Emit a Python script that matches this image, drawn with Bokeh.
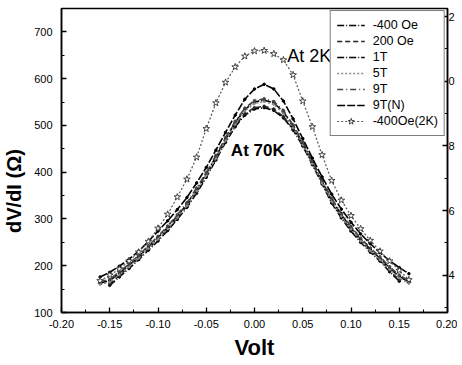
from bokeh.plotting import figure
from bokeh.models import (Range1d, LinearAxis, SingleIntervalTicker, PrintfTickFormatter,
                          Legend, LegendItem, Label)
from bokeh.embed import file_html
from bokeh.resources import INLINE

# ---------------- data ----------------
volts_full = [-0.16, -0.15, -0.14, -0.13, -0.12, -0.11, -0.10, -0.09, -0.08, -0.07, -0.06,
              -0.05, -0.04, -0.03, -0.02, -0.01, 0.00, 0.01, 0.02, 0.03, 0.04, 0.05,
              0.06, 0.07, 0.08, 0.09, 0.10, 0.11, 0.12, 0.13, 0.14, 0.15, 0.16]
volts_short = [-0.15, -0.14, -0.13, -0.12, -0.11, -0.10, -0.09, -0.08, -0.07, -0.06,
               -0.05, -0.04, -0.03, -0.02, -0.01, 0.00, 0.01, 0.02, 0.03, 0.04, 0.05,
               0.06, 0.07, 0.08, 0.09, 0.10, 0.11, 0.12, 0.13, 0.14, 0.15]

m400_oe = [158, 176, 194, 213, 233, 253, 275, 299, 325, 355, 389, 426, 464, 497, 522, 535,
           538, 532, 516, 490, 456, 416, 375, 334, 302, 274, 250, 229, 210, 187, 167]
p200_oe = [161, 179, 197, 216, 236, 256, 278, 302, 328, 358, 392, 429, 467, 500, 525, 538,
           541, 535, 519, 493, 459, 419, 378, 337, 305, 277, 253, 232, 213, 190, 170]
t1 = [163, 168, 184, 201, 219, 240, 260, 282, 306, 332, 363, 396, 433, 471, 506, 534, 550,
      554, 548, 529, 498, 462, 421, 380, 341, 309, 281, 256, 235, 216, 195, 177, 165]
t5 = [160, 165, 181, 198, 216, 237, 257, 279, 303, 329, 360, 393, 430, 468, 503, 531, 547,
      551, 545, 526, 495, 459, 418, 377, 338, 306, 278, 253, 232, 213, 192, 174, 162]
t9 = [166, 171, 187, 204, 222, 243, 263, 285, 309, 335, 366, 399, 436, 474, 509, 537, 553,
      557, 551, 532, 501, 465, 424, 383, 344, 312, 284, 259, 238, 219, 198, 180, 168]
t9_n = [176, 186, 199, 214, 231, 252, 274, 296, 320, 346, 377, 410, 447, 485, 522, 556, 578,
        588, 578, 552, 514, 472, 430, 390, 353, 321, 293, 268, 247, 228, 211, 196, 183]
m400_2k = [168, 180, 193, 210, 229, 252, 280, 310, 347, 385, 432, 493, 548, 592, 625, 648, 659,
           660, 653, 640, 608, 552, 497, 437, 382, 340, 307, 279, 254, 231, 210, 190, 170]

labels = ["-400 Oe", "200 Oe", "1T", "5T", "9T", "9T(N)", "-400Oe(2K)"]
x_ticks_interval = 0.05
right_tick_overrides = {12: "2", 10: "0", 8: "8", 6: "6", 4: "4"}

FONT = "Liberation Sans"

p = figure(frame_width=386, frame_height=304, x_range=Range1d(-0.2, 0.2),
           y_range=Range1d(100, 750),
           output_backend="svg", toolbar_location=None,
           min_border_left=59, min_border_top=8, min_border_right=0, min_border_bottom=0)
p.xgrid.visible = False
p.ygrid.visible = False
p.outline_line_color = "black"
p.outline_line_width = 1.5
p.background_fill_color = "white"
p.border_fill_color = "white"


def style_axis(ax):
    ax.axis_line_color = "black"
    ax.axis_line_width = 1.5
    ax.major_tick_in = 5
    ax.major_tick_out = 0
    ax.minor_tick_in = 3
    ax.minor_tick_out = 0
    ax.major_tick_line_color = "black"
    ax.minor_tick_line_color = "black"
    ax.major_tick_line_width = 1.3
    ax.major_label_text_font = FONT
    ax.major_label_text_font_size = "11px"
    ax.major_label_text_color = "black"
    ax.axis_label_text_font = FONT
    ax.axis_label_text_font_style = "bold"
    ax.axis_label_text_color = "black"


xa = p.xaxis[0]
xa.ticker = SingleIntervalTicker(interval=x_ticks_interval, num_minor_ticks=2)
xa.formatter = PrintfTickFormatter(format="%.2f")
style_axis(xa)
xa.major_label_standoff = 7
xa.axis_label = "Volt"
xa.axis_label_text_font_size = "22px"
xa.axis_label_standoff = 4

ya = p.yaxis[0]
ya.ticker = SingleIntervalTicker(interval=100, num_minor_ticks=2)
style_axis(ya)
ya.major_label_standoff = 9
# trailing no-break spaces push the (centred) label lower, as in the original
ya.axis_label = "dV/dI (Ω)" + "\u00a0" * 11
ya.axis_label_text_font_size = "20px"
ya.axis_label_standoff = 6

p.extra_y_ranges = {"r": Range1d(2.85, 12.25)}
ra = LinearAxis(y_range_name="r", ticker=SingleIntervalTicker(interval=2, num_minor_ticks=2),
                major_label_overrides=right_tick_overrides)
style_axis(ra)
ra.major_label_standoff = 1
ra.axis_label_standoff = 0
p.add_layout(ra, "right")

specs = [
    (volts_short, m400_oe, "black", "7 2 1 2", "circle", 2.5),
    (volts_short, p200_oe, "#222222", "5 3", "circle", 2.5),
    (volts_full, t1, "black", "7 2 1 2", "circle", 2.5),
    (volts_full, t5, "#8a8a8a", "2 2", "circle", 2.0),
    (volts_full, t9, "#444444", "6 3 1 3", "circle", 2.5),
    (volts_full, t9_n, "black", "8 2", "circle", 2.5),
    (volts_full, m400_2k, "#555555", "2 2", "star", 7),
]

items = []
for (xs, ys, col, dash, mk, sz), lab in zip(specs, labels):
    lw = 1.2 if mk == "star" else 1.6
    lr = p.line(xs, ys, line_color=col, line_width=lw, line_dash=dash)
    if mk == "star":
        sr = p.scatter(xs, ys, marker="star", size=sz, line_color="#333333",
                       fill_color="white", line_width=0.9)
        items.append(LegendItem(label=lab, renderers=[lr, sr]))
    else:
        p.scatter(xs, ys, marker="circle", size=sz, line_color=col, fill_color=col)
        items.append(LegendItem(label=lab, renderers=[lr]))

legend = Legend(items=items, location="top_right", margin=2, padding=6, spacing=0,
                label_height=16, glyph_height=16, glyph_width=28, label_standoff=8,
                label_text_font=FONT, label_text_font_size="12.5px",
                label_text_color="black", border_line_color="black", border_line_width=1.2,
                background_fill_color="white", background_fill_alpha=1.0)
p.add_layout(legend)

p.add_layout(Label(x=0.034, y=648, text="At 2K", text_font=FONT, text_font_size="18px",
                   text_baseline="middle", text_align="left", text_color="black"))
p.add_layout(Label(x=-0.0245, y=447, text="At 70K", text_font=FONT, text_font_size="17px",
                   text_font_style="bold", text_baseline="middle", text_align="left",
                   text_color="black"))

open("out.html", "w").write(file_html(p, INLINE))
